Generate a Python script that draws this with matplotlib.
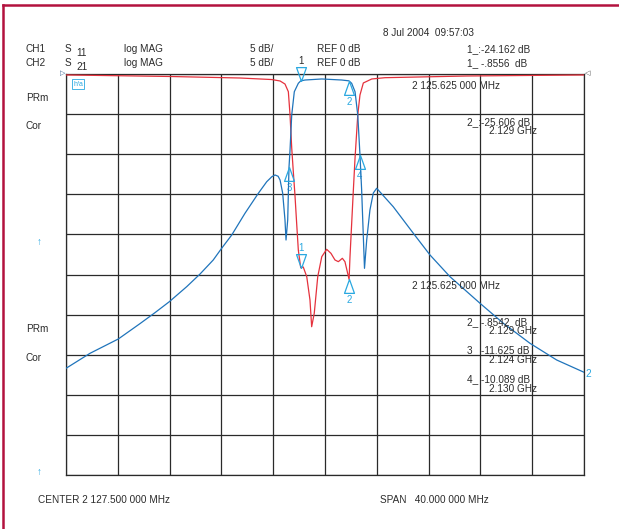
import matplotlib
matplotlib.use('Agg')
import matplotlib.pyplot as plt
from matplotlib.lines import Line2D
from matplotlib.path import Path
import numpy as np

plt.rcParams['font.family'] = ['Liberation Sans', 'DejaVu Sans']

W, H = 619, 529
BLUE = '#1f74bb'
RED = '#e5323d'
CYAN = '#2aa8e0'
TXT = '#2b2b2b'
FRAME = '#b3123e'

# S21 (CH2) trace, MHz / dB
s21_f = [2107.5, 2109.35, 2111.54, 2113.21, 2114.37, 2115.48, 2116.82, 2117.85,
         2118.87, 2119.52, 2120.30, 2121.32, 2122.35, 2123.00, 2123.40, 2123.64,
         2123.88, 2124.03, 2124.23, 2124.41, 2124.49, 2124.62, 2124.72, 2124.80,
         2124.93, 2125.13, 2125.44, 2125.625, 2125.96, 2127.25, 2128.79, 2129.35,
         2129.56, 2129.82, 2130.03, 2130.20, 2130.33, 2130.47, 2130.55, 2130.72,
         2130.97, 2131.23, 2131.49, 2132.77, 2134.32, 2135.61, 2137.15, 2139.47,
         2141.27, 2143.33, 2145.39, 2147.5]
s21_db = [-36.7, -34.83, -33.04, -31.13, -29.76, -28.39, -26.52, -24.94,
          -23.19, -21.73, -20.07, -17.37, -14.88, -13.43, -12.8, -12.59,
          -12.75, -13.22, -14.84, -18.20, -20.70, -18.20, -11.62, -9.48,
          -5.11, -2.21, -1.16, -0.856, -0.75, -0.62, -0.75, -0.854,
          -1.16, -2.21, -5.11, -10.09, -14.46, -20.70, -24.23, -20.70,
          -16.96, -14.84, -14.25, -16.55, -19.86, -22.57, -25.27, -28.59,
          -31.08, -33.58, -35.66, -37.19]

# S11 (CH1) trace
s11_f = [2107.5, 2115.53, 2120.94, 2123.38, 2124.03, 2124.41, 2124.67, 2124.80,
         2124.93, 2125.07, 2125.18, 2125.31, 2125.44, 2125.625, 2125.82, 2126.09,
         2126.34, 2126.47, 2126.67, 2126.94, 2127.25, 2127.63, 2127.96, 2128.27,
         2128.53, 2128.84, 2129.04, 2129.25, 2129.36, 2129.43, 2129.56, 2129.69,
         2129.82, 2130.03, 2130.20, 2130.46, 2131.11, 2132.13, 2138.44, 2147.5]
s11_db = [-0.12, -0.31, -0.50, -0.69, -0.87, -1.25, -2.21, -5.11,
          -9.23, -12.59, -15.09, -18.58, -21.95, -24.16, -24.06, -25.27,
          -28.18, -31.51, -29.84, -25.27, -22.78, -21.86, -22.36, -23.19,
          -23.40, -22.98, -23.40, -24.85, -25.61, -22.78, -18.62, -14.46,
          -10.47, -5.11, -2.62, -1.12, -0.62, -0.46, -0.25, -0.12]

# markers: (freq, dB, label, pointing down?)
ch2_markers = [(2125.625, -0.856, '1', True), (2129.35, -0.854, '2', False),
               (2124.72, -11.625, '3', False), (2130.20, -10.089, '4', False)]
ch1_markers = [(2125.625, -24.162, '1', True), (2129.36, -25.606, '2', False)]

center, span = 2127.5, 40.0

fig = plt.figure(figsize=(W / 100, H / 100), dpi=100)
ax = fig.add_axes([66 / W, 1 - 475 / H, 518 / W, 401 / H])
ax.set_xlim(center - span / 2, center + span / 2)
ax.set_ylim(-50, 0)
ax.set_xticks(np.linspace(center - span / 2, center + span / 2, 11))
ax.set_yticks(np.arange(-50, 1, 5))
ax.tick_params(length=0, labelbottom=False, labelleft=False)
ax.grid(True, color='#2a2a2a', linewidth=0.9)
for sp in ax.spines.values():
    sp.set_color('#2a2a2a')
    sp.set_linewidth(0.9)

ax.plot(s11_f, s11_db, color=RED, linewidth=0.9, zorder=3)
ax.plot(s21_f, s21_db, color=BLUE, linewidth=0.9, zorder=4)

tri_down = Path([(0, 0), (-5, 14), (5, 14), (0, 0)])
tri_up = Path([(0, 0), (-5, -14), (5, -14), (0, 0)])
for i, (f, d, lab, down) in enumerate(ch2_markers + ch1_markers):
    ax.plot(f, d, marker=tri_down if down else tri_up, markersize=20,
            markerfacecolor='none', markeredgecolor=CYAN, markeredgewidth=0.9,
            zorder=5, clip_on=False)
    col = TXT if i == 0 else CYAN
    ax.annotate(lab, (f, d), xytext=(0, 14.5 if down else -15), textcoords='offset points',
                ha='center', va='center', fontsize=7, color=col, annotation_clip=False)


def ftext(x, y, s, **kw):
    kw.setdefault('fontsize', 7.2)
    kw.setdefault('color', TXT)
    fig.text(x / W, 1 - y / H, s, va='center', ha=kw.pop('ha', 'left'), **kw)


ftext(383, 33, '8 Jul 2004  09:57:03')
for y, ch, sub, mk in [(48.7, 'CH1', '11', '1_:-24.162 dB'), (63.3, 'CH2', '21', '1_ -.8556  dB')]:
    ftext(26, y, ch)
    ftext(65, y, 'S')
    ftext(76, y + 4, sub)
    ftext(124, y, 'log MAG')
    ftext(250, y, '5 dB/')
    ftext(317, y, 'REF 0 dB')
    ftext(467, y, mk)

for y, s in [(98, 'PRm'), (126, 'Cor'), (329, 'PRm'), (358, 'Cor')]:
    ftext(26, y, s)
for y in [241.7, 471.7]:
    ftext(39, y, '\u2191', ha='center', color=CYAN, fontsize=7)

ftext(412, 85.7, '2 125.625 000 MHz')
ftext(412, 285.7, '2 125.625 000 MHz')
ftext(467, 121.7, '2_:-25.606 dB')
ftext(489, 131.3, '2.129 GHz')
ftext(467, 321.7, '2_ -.8542  dB')
ftext(489, 331, '2.129 GHz')
ftext(467, 350, '3_ -11.625 dB')
ftext(489, 360, '2.124 GHz')
ftext(467, 379.3, '4_ -10.089 dB')
ftext(489, 389, '2.130 GHz')
ftext(38, 500, 'CENTER 2 127.500 000 MHz')
ftext(380, 500, 'SPAN   40.000 000 MHz')

ftext(585, 374, '2', color=CYAN, fontsize=7.2)
ftext(63, 74, '\u25b7', ha='center', color='#2a5a8a', fontsize=5)
ftext(588, 74, '\u25c1', ha='center', color='#444444', fontsize=5)
fig.text(73 / W, 1 - 84 / H, 'h/a', fontsize=5, color=CYAN, va='center', ha='left',
         bbox=dict(boxstyle='square,pad=0.15', fc='none', ec=CYAN, lw=0.6))

# crimson frame (top and left)
fig.add_artist(Line2D([3 / W, 1], [1 - 5 / H, 1 - 5 / H], color=FRAME, linewidth=1.8))
fig.add_artist(Line2D([3 / W, 3 / W], [0, 1 - 5 / H], color=FRAME, linewidth=1.8))

fig.savefig('out.png', dpi=100, facecolor='white')
